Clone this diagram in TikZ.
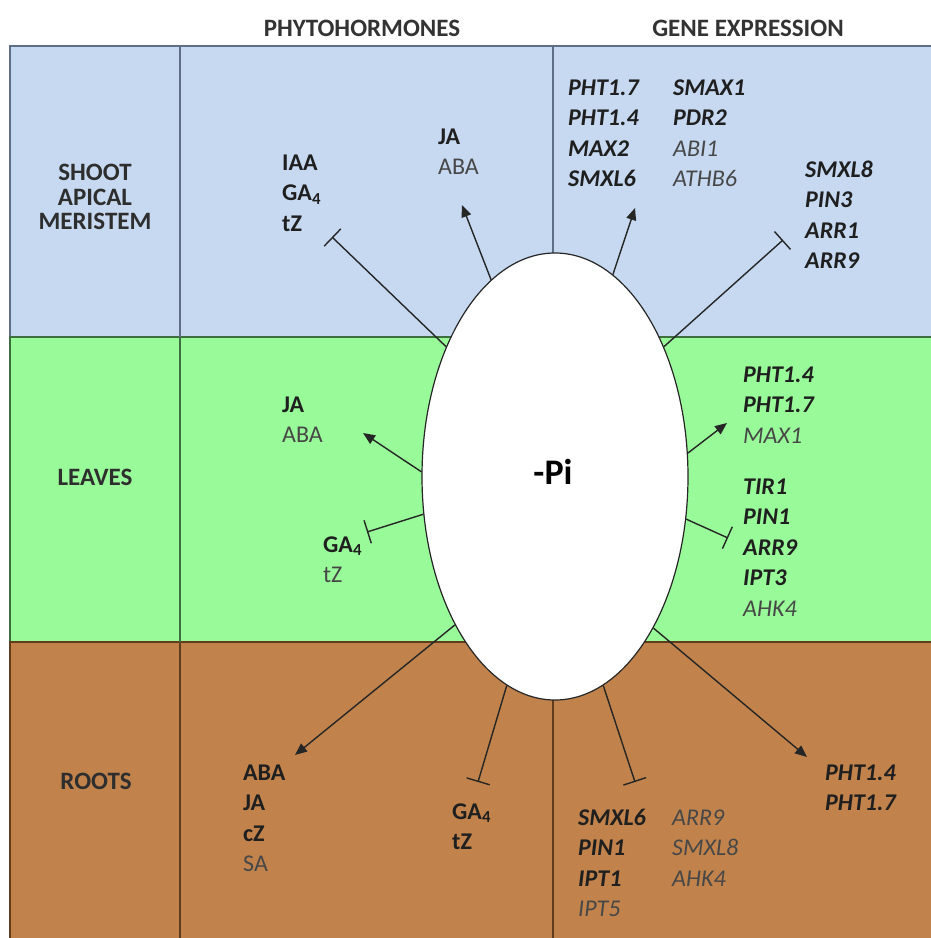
\documentclass[tikz,border=0pt]{standalone}
\usepackage{fontspec}
\setmainfont{Carlito}
\usetikzlibrary{arrows.meta,shapes.geometric}
\definecolor{samblue}{HTML}{C6D9F1}
\definecolor{samline}{HTML}{5E6E84}
\definecolor{leafgreen}{HTML}{99FA99}
\definecolor{leafline}{HTML}{3E6E3E}
\definecolor{rootbrown}{HTML}{C1834B}
\definecolor{rootline}{HTML}{5E3C1C}
\newcommand{\nw}[1]{\textcolor{black!72}{#1}}
\begin{document}
\begin{tikzpicture}[x=1pt,y=-1pt,
  act/.style={line width=1.4pt,draw=black!85,-{Triangle[length=12pt,width=10pt]}},
  inh/.style={line width=1.4pt,draw=black!85,-{Bar[width=24pt,line width=1.4pt]}},
  lbl/.style={inner sep=0pt,align=center,text=black!82,font=\fontsize{25}{24.5}\selectfont\bfseries},
  hdr/.style={inner sep=0pt,text=black!80,font=\fontsize{25}{28}\selectfont\bfseries},
  txt/.style={anchor=base west,inner sep=0pt,text width=150pt,align=left,text=black!88,
    font=\fontsize{24}{30.5}\selectfont}]
\useasboundingbox (0,0) rectangle (931,938);
\clip (0,0) rectangle (931,938);
\fill[white] (0,0) rectangle (931,938);
% rows
\filldraw[fill=samblue,draw=samline,line width=1.5pt] (10,46) rectangle (945,337);
\filldraw[fill=leafgreen,draw=leafline,line width=1.5pt] (10,337) rectangle (945,642);
\filldraw[fill=rootbrown,draw=rootline,line width=1.5pt] (10,642) rectangle (945,955);
\draw[samline,line width=1.5pt] (10,46) -- (945,46);
% column dividers
\draw[samline,line width=1.3pt] (180,46) -- (180,337) (553,46) -- (553,337);
\draw[leafline,line width=1.3pt] (180,337) -- (180,642);
\draw[rootline,line width=1.3pt] (180,642) -- (180,945) (553,642) -- (553,945);
% headers
\node[hdr] (hphy) at (362,28) {PHYTOHORMONES};
\node[hdr] (hgen) at (748,28) {GENE EXPRESSION};
% row labels
\node[lbl] (lsam) at (95,197) {SHOOT\\APICAL\\MERISTEM};
\node[lbl] (llea) at (95,477) {LEAVES};
\node[lbl] (lroo) at (96,781) {ROOTS};
% central ellipse
\node[ellipse,draw=black!85,line width=1.2pt,fill=white,minimum width=266pt,minimum height=447pt,inner sep=0pt] (pi) at (555,476.5) {};
\node[inner sep=0pt,font=\fontsize{36}{40}\selectfont\bfseries] (pitext) at (553,472) {-Pi};
% end points
\coordinate (t1) at (332,237);
\coordinate (t2) at (462,205);
\coordinate (t3) at (635,208);
\coordinate (t4) at (783,240);
\coordinate (t5) at (363,433);
\coordinate (t6) at (367,532);
\coordinate (t7) at (727,423);
\coordinate (t8) at (728,538);
\coordinate (t9) at (295,755);
\coordinate (t10) at (478,782);
\coordinate (t11) at (635,782);
\coordinate (t12) at (807,757);
% connectors
\draw[inh] (pi.130) -- (t1);
\draw[act] (pi.108) -- (t2);
\draw[act] (pi.74) -- (t3);
\draw[inh] (pi.50) -- (t4);
\draw[act] (pi.178) -- (t5);
\draw[inh] (pi.196) -- (t6);
\draw[act] (pi.10) -- (t7);
\draw[inh] (pi.342) -- (t8);
\draw[act] (pi.236) -- (t9);
\draw[inh] (pi.257) -- (t10);
\draw[inh] (pi.283) -- (t11);
\draw[act] (pi.303) -- (t12);
% shoot apical meristem texts
\node[txt] (sh1) at (282,170) {\textbf{IAA}\\\textbf{GA\textsubscript{4}}\\\textbf{tZ}};
\node[txt] (sh2) at (438,144) {\textbf{JA}\\\nw{ABA}};
\node[txt] (sg1) at (568,95) {\textbf{\textit{PHT1.7}}\\\textbf{\textit{PHT1.4}}\\\textbf{\textit{MAX2}}\\\textbf{\textit{SMXL6}}};
\node[txt] (sg2) at (673,95) {\textbf{\textit{SMAX1}}\\\textbf{\textit{PDR2}}\\\nw{\textit{ABI1}}\\\nw{\textit{ATHB6}}};
\node[txt] (sg3) at (805,177) {\textbf{\textit{SMXL8}}\\\textbf{\textit{PIN3}}\\\textbf{\textit{ARR1}}\\\textbf{\textit{ARR9}}};
% leaves texts
\node[txt] (lh1) at (282,412) {\textbf{JA}\\\nw{ABA}};
\node[txt] (lh2) at (323,552) {\textbf{GA\textsubscript{4}}\\\nw{tZ}};
\node[txt] (lg1) at (743,382) {\textbf{\textit{PHT1.4}}\\\textbf{\textit{PHT1.7}}\\\nw{\textit{MAX1}}};
\node[txt] (lg2) at (743,494) {\textbf{\textit{TIR1}}\\\textbf{\textit{PIN1}}\\\textbf{\textit{ARR9}}\\\textbf{\textit{IPT3}}\\\nw{\textit{AHK4}}};
% roots texts
\node[txt] (rh1) at (243,780) {\textbf{ABA}\\\textbf{JA}\\\textbf{cZ}\\\nw{SA}};
\node[txt] (rh2) at (452,819) {\textbf{GA\textsubscript{4}}\\\textbf{tZ}};
\node[txt] (rg1) at (578,825) {\textbf{\textit{SMXL6}}\\\textbf{\textit{PIN1}}\\\textbf{\textit{IPT1}}\\\nw{\textit{IPT5}}};
\node[txt] (rg2) at (672,825) {\nw{\textit{ARR9}}\\\nw{\textit{SMXL8}}\\\nw{\textit{AHK4}}};
\node[txt] (rg3) at (825,780) {\textbf{\textit{PHT1.4}}\\\textbf{\textit{PHT1.7}}};
\end{tikzpicture}
\end{document}
